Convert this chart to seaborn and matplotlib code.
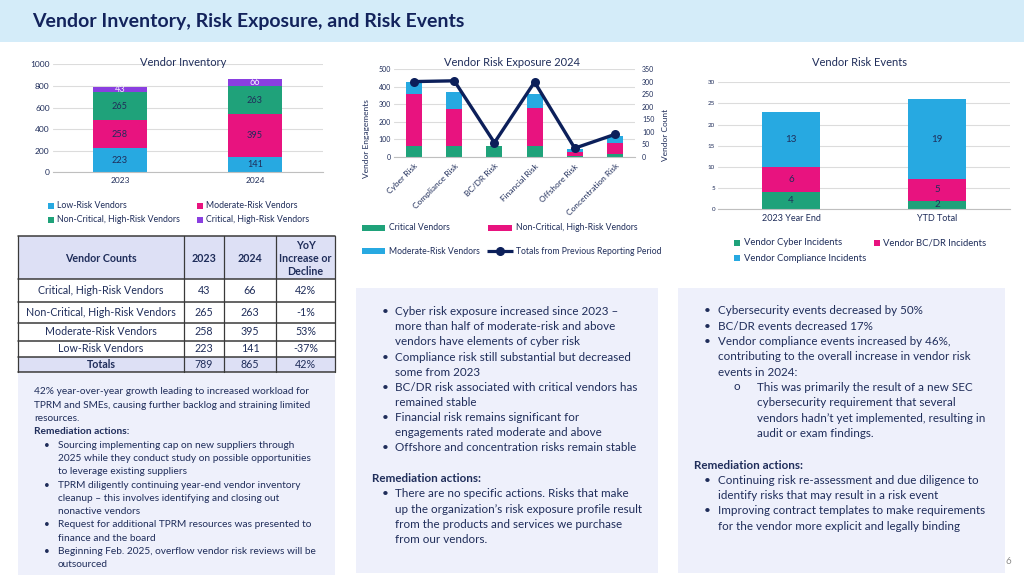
import matplotlib
matplotlib.use("Agg")
import matplotlib.pyplot as plt
from matplotlib.patches import Rectangle
import seaborn as sns
import numpy as np

W, H = 1024, 575

# colours
NAVY = "#13235c"
TEXT = "#1f2d5a"
BLUE = "#27a9e1"
MAGENTA = "#e8137f"
GREEN = "#1fa27a"
PURPLE = "#8a3fe0"
LINE_NAVY = "#0c1f5a"
GRID = "#dcdcdc"
BOX_BG = "#eef0fb"
HEAD_BG = "#dde0f5"
BAND_BG = "#d4ecf9"

# vendor inventory
inv_years = ["2023", "2024"]
inv_low = [223, 141]
inv_moderate = [258, 395]
inv_noncrit = [265, 263]
inv_crit = [43, 66]
inv_labels = ["Low-Risk Vendors", "Moderate-Risk Vendors",
              "Non-Critical, High-Risk Vendors", "Critical, High-Risk Vendors"]

# vendor risk exposure 2024
exp_cats = ["Cyber Risk", "Compliance Risk", "BC/DR Risk", "Financial Risk",
            "Offshore Risk", "Concentration Risk"]
exp_critical = [65, 60, 65, 65, 4, 17]
exp_noncrit = [293, 211, 0, 213, 24, 64]
exp_moderate = [66, 100, 0, 80, 16, 38]
exp_prev_totals = [300, 303, 57, 298, 35, 90]

# vendor risk events
evt_periods = ["2023 Year End", "YTD Total"]
evt_cyber = [4, 2]
evt_bcdr = [6, 5]
evt_compliance = [13, 19]

# table
tbl_header = ["Vendor Counts", "2023", "2024", "YoY\nIncrease or\nDecline"]
tbl_rows = [
    ["Critical, High-Risk Vendors", "43", "66", "42%"],
    ["Non-Critical, High-Risk Vendors", "265", "263", "-1%"],
    ["Moderate-Risk Vendors", "258", "395", "53%"],
    ["Low-Risk Vendors", "223", "141", "-37%"],
    ["Totals", "789", "865", "42%"],
]

left_lines = [
    ("p", "42% year-over-year growth leading to increased workload for"),
    ("p", "TPRM and SMEs, causing further backlog and straining limited"),
    ("p", "resources."),
    ("h", "Remediation actions:"),
    ("b", "Sourcing implementing cap on new suppliers through"),
    ("c", "2025 while they conduct study on possible opportunities"),
    ("c", "to leverage existing suppliers"),
    ("b", "TPRM diligently continuing year-end vendor inventory"),
    ("c", "cleanup \u2013 this involves identifying and closing out"),
    ("c", "nonactive vendors"),
    ("b", "Request for additional TPRM resources was presented to"),
    ("c", "finance and the board"),
    ("b", "Beginning Feb. 2025, overflow vendor risk reviews will be"),
    ("c", "outsourced"),
]

mid_lines = [
    ("b", "Cyber risk exposure increased since 2023 \u2013"),
    ("c", "more than half of moderate-risk and above"),
    ("c", "vendors have elements of cyber risk"),
    ("b", "Compliance risk still substantial but decreased"),
    ("c", "some from 2023"),
    ("b", "BC/DR risk associated with critical vendors has"),
    ("c", "remained stable"),
    ("b", "Financial risk remains significant for"),
    ("c", "engagements rated moderate and above"),
    ("b", "Offshore and concentration risks remain stable"),
    ("gap", ""),
    ("gap", ""),
    ("h", "Remediation actions:"),
    ("b", "There are no specific actions. Risks that make"),
    ("c", "up the organization\u2019s risk exposure profile result"),
    ("c", "from the products and services we purchase"),
    ("c", "from our vendors."),
]

right_lines = [
    ("b", "Cybersecurity events decreased by 50%"),
    ("b", "BC/DR events decreased 17%"),
    ("b", "Vendor compliance events increased by 46%,"),
    ("c", "contributing to the overall increase in vendor risk"),
    ("c", "events in 2024:"),
    ("s", "This was primarily the result of a new SEC"),
    ("sc", "cybersecurity requirement that several"),
    ("sc", "vendors hadn\u2019t yet implemented, resulting in"),
    ("sc", "audit or exam findings."),
    ("gap", ""),
    ("gap", ""),
    ("h", "Remediation actions:"),
    ("b", "Continuing risk re-assessment and due diligence to"),
    ("c", "identify risks that may result in a risk event"),
    ("b", "Improving contract templates to make requirements"),
    ("c", "for the vendor more explicit and legally binding"),
]

sns.set_style("white")
plt.rcParams["font.family"] = ["Lato", "DejaVu Sans"]

fig = plt.figure(figsize=(W / 100, H / 100), dpi=100)

# background canvas in pixel coordinates
bg = fig.add_axes([0, 0, 1, 1])
bg.set_xlim(0, W)
bg.set_ylim(H, 0)
bg.axis("off")
bg.set_zorder(-1)


def px_axes(x0, y0, x1, y1):
    ax = fig.add_axes([x0 / W, 1 - y1 / H, (x1 - x0) / W, (y1 - y0) / H])
    ax.set_facecolor("none")
    return ax


def fig_text(x, y, s, **kw):
    # text on top of every axes, placed in pixels
    fig.text(x / W, 1 - y / H, s, **kw)


def stacked_bars(ax, cats, layers, width):
    # seaborn stacked bars: draw cumulative totals, tallest first
    cum = np.cumsum([vals for vals, _ in layers], axis=0)
    for i in range(len(layers) - 1, -1, -1):
        sns.barplot(x=cats, y=cum[i], order=cats, color=layers[i][1], width=width,
                    saturation=1, linewidth=0, errorbar=None, ax=ax)
    return cum


def style_axes(ax, ymax, step, fs, pad):
    ax.set_ylim(0, ymax)
    ax.set_yticks(np.arange(0, ymax + 1, step))
    ax.yaxis.grid(True, color=GRID, lw=0.8)
    ax.set_axisbelow(True)
    for s in ["left", "right", "top"]:
        ax.spines[s].set_visible(False)
    ax.spines["bottom"].set_color("#bfbfbf")
    ax.spines["bottom"].set_linewidth(0.8)
    ax.tick_params(length=0, labelsize=fs, colors=TEXT, pad=pad)
    ax.set_xlabel("")
    ax.set_ylabel("")


def legend_entry(x, y, color, label, fs, w=6, h=6, kind="patch", tx=None):
    if kind == "patch":
        bg.add_patch(Rectangle((x, y - h / 2), w, h, color=color, lw=0))
    else:
        bg.plot([x, x + w], [y, y], color=color, lw=2.3, solid_capstyle="butt")
        bg.plot([x + w / 2], [y], "o", color=color, ms=5.5)
    bg.text(tx if tx is not None else x + w + 3, y, label, fontsize=fs,
            color=TEXT, va="center", ha="left")


# header band
bg.add_patch(Rectangle((0, 0), W, 42, color=BAND_BG, lw=0))
bg.text(32, 22, "Vendor Inventory, Risk Exposure, and Risk Events", fontsize=14,
        fontweight="bold", color=NAVY, va="center", ha="left")

# ---------------- Vendor Inventory ----------------
ax1 = px_axes(52.5, 64.3, 322.5, 172.3)
inv_layers = [(inv_low, BLUE), (inv_moderate, MAGENTA), (inv_noncrit, GREEN), (inv_crit, PURPLE)]
cum1 = stacked_bars(ax1, inv_years, inv_layers, 0.4)
style_axes(ax1, 1000, 200, 6, 2)
ax1.tick_params(axis="x", pad=3.5)
ax1.set_xlim(-0.5, 1.5)
for li, (vals, _) in enumerate(inv_layers):
    for i, v in enumerate(vals):
        mid = cum1[li][i] - v / 2
        col = "#f3eefc" if li == 3 else TEXT
        ax1.text(i, mid, str(v), ha="center", va="center", fontsize=6.6, color=col)
fig_text(183.5, 62, "Vendor Inventory", fontsize=8, color=TEXT, ha="center", va="center")
legend_entry(48, 205.7, BLUE, inv_labels[0], 6.3)
legend_entry(197, 205.7, MAGENTA, inv_labels[1], 6.3)
legend_entry(48, 220, GREEN, inv_labels[2], 6.3)
legend_entry(197, 220, PURPLE, inv_labels[3], 6.3)

# ---------------- Vendor Risk Exposure ----------------
ax2 = px_axes(394, 69, 635, 157)
exp_layers = [(exp_critical, GREEN), (exp_noncrit, MAGENTA), (exp_moderate, BLUE)]
stacked_bars(ax2, exp_cats, exp_layers, 0.4)
style_axes(ax2, 500, 100, 5, 2)
ax2.set_xlim(-0.5, len(exp_cats) - 0.5)
ax2.set_xticks(range(len(exp_cats)))
ax2.set_xticklabels(exp_cats, rotation=45, ha="right", rotation_mode="anchor", fontsize=6)
ax2.tick_params(axis="x", pad=4)

ax2b = ax2.twinx()
sns.lineplot(x=np.arange(len(exp_cats)), y=exp_prev_totals, ax=ax2b, color=LINE_NAVY,
             lw=2.4, marker="o", markersize=6.5, markeredgewidth=0)
ax2b.set_ylim(0, 350)
ax2b.set_yticks(np.arange(0, 351, 50))
ax2b.set_xlim(-0.5, len(exp_cats) - 0.5)
for s in ax2b.spines.values():
    s.set_visible(False)
ax2b.tick_params(length=0, labelsize=5, colors=TEXT, pad=5)
ax2b.set_ylabel("")
fig_text(512, 62.5, "Vendor Risk Exposure 2024", fontsize=8, color=TEXT, ha="center", va="center")
bg.text(367, 139, "Vendor Engagements", fontsize=6, color=TEXT, ha="center", va="center", rotation=90)
bg.text(665, 135, "Vendor Count", fontsize=6, color=TEXT, ha="center", va="center", rotation=90)
legend_entry(362, 228, GREEN, "Critical Vendors", 6.2, w=23, h=6, tx=389)
legend_entry(488, 228, MAGENTA, "Non-Critical, High-Risk Vendors", 6.2, w=24, h=6, tx=516)
legend_entry(362, 251, BLUE, "Moderate-Risk Vendors", 6.2, w=23, h=6, tx=389)
legend_entry(487, 251, LINE_NAVY, "Totals from Previous Reporting Period", 6.2, w=26,
             kind="line", tx=516)

# ---------------- Vendor Risk Events ----------------
ax3 = px_axes(718, 82.3, 1010, 209)
evt_layers = [(evt_cyber, GREEN), (evt_bcdr, MAGENTA), (evt_compliance, BLUE)]
cum3 = stacked_bars(ax3, evt_periods, evt_layers, 0.4)
style_axes(ax3, 30, 5, 4.5, 2)
ax3.tick_params(axis="x", labelsize=6.5, pad=3.5)
ax3.set_xlim(-0.5, 1.5)
for li, (vals, _) in enumerate(evt_layers):
    for i, v in enumerate(vals):
        ax3.text(i, cum3[li][i] - v / 2, str(v), ha="center", va="center",
                 fontsize=7, color=TEXT)
fig_text(859, 62.3, "Vendor Risk Events", fontsize=8, color=TEXT, ha="center", va="center")
legend_entry(734, 242.7, GREEN, "Vendor Cyber Incidents", 6.8, tx=744)
legend_entry(874, 242.7, MAGENTA, "Vendor BC/DR Incidents", 6.8, tx=883)
legend_entry(734, 258.3, BLUE, "Vendor Compliance Incidents", 6.8, tx=744)

# ---------------- Table ----------------
col_x = [18.3, 183.5, 224, 276, 335]
row_y = [236, 279.3, 301.7, 322.7, 340.7, 357.3, 371.7]
bg.add_patch(Rectangle((col_x[0], row_y[0]), col_x[-1] - col_x[0], row_y[1] - row_y[0],
                       color=HEAD_BG, lw=0))
bg.add_patch(Rectangle((col_x[0], row_y[-2]), col_x[-1] - col_x[0], row_y[-1] - row_y[-2],
                       color=HEAD_BG, lw=0))
for y in row_y:
    bg.plot([col_x[0], col_x[-1]], [y, y], color="#3a3a3a", lw=1.1)
for x in col_x:
    bg.plot([x, x], [row_y[0], row_y[-1]], color="#3a3a3a", lw=0.9)
for ci, txt in enumerate(tbl_header):
    cx = (col_x[ci] + col_x[ci + 1]) / 2
    bg.text(cx, (row_y[0] + row_y[1]) / 2 + 1, txt, fontsize=7.7, fontweight="bold",
            color=TEXT, ha="center", va="center", linespacing=1.25)
for ri, row in enumerate(tbl_rows):
    cy = (row_y[ri + 1] + row_y[ri + 2]) / 2
    for ci, txt in enumerate(row):
        cx = (col_x[ci] + col_x[ci + 1]) / 2
        bold = ri == len(tbl_rows) - 1 and ci == 0
        bg.text(cx, cy, txt, fontsize=7.7, fontweight="bold" if bold else "normal",
                color=TEXT, ha="center", va="center")

# ---------------- Text boxes ----------------
bg.add_patch(Rectangle((18.3, 373), 335 - 18.3, H - 373, color=BOX_BG, lw=0))
bg.add_patch(Rectangle((356, 288), 658 - 356, 573 - 288, color=BOX_BG, lw=0))
bg.add_patch(Rectangle((678, 288), 1005 - 678, 573 - 288, color=BOX_BG, lw=0))


def text_block(lines, y0, step, fs, x_para, x_bullet, x_text, x_sub=None, x_subtext=None):
    y = y0
    for kind, txt in lines:
        if kind == "gap":
            y += step / 2 + 0.5
            continue
        if kind == "p":
            bg.text(x_para, y, txt, fontsize=fs, color=TEXT, va="center")
        elif kind == "h":
            bg.text(x_para, y, txt, fontsize=fs, color=TEXT, va="center", fontweight="bold")
        elif kind in ("b", "c"):
            if kind == "b":
                bg.text(x_bullet, y, "\u2022", fontsize=fs, color=TEXT, va="center")
            bg.text(x_text, y, txt, fontsize=fs, color=TEXT, va="center")
        else:
            if kind == "s":
                bg.text(x_sub, y - 1.5, "o", fontsize=fs, color=TEXT, va="center")
            bg.text(x_subtext, y, txt, fontsize=fs, color=TEXT, va="center")
        y += step


text_block(left_lines, 391.7, 13.33, 7.3, 34, 44, 58)
text_block(mid_lines, 311.7, 15.1, 8.4, 372, 382, 395)
text_block(right_lines, 311, 15.3, 8.4, 694, 704, 718, 734, 757)
bg.text(1008, 561, "6", fontsize=7, color="#8c8c8c", ha="center", va="center")

fig.savefig("out.png", dpi=100)
